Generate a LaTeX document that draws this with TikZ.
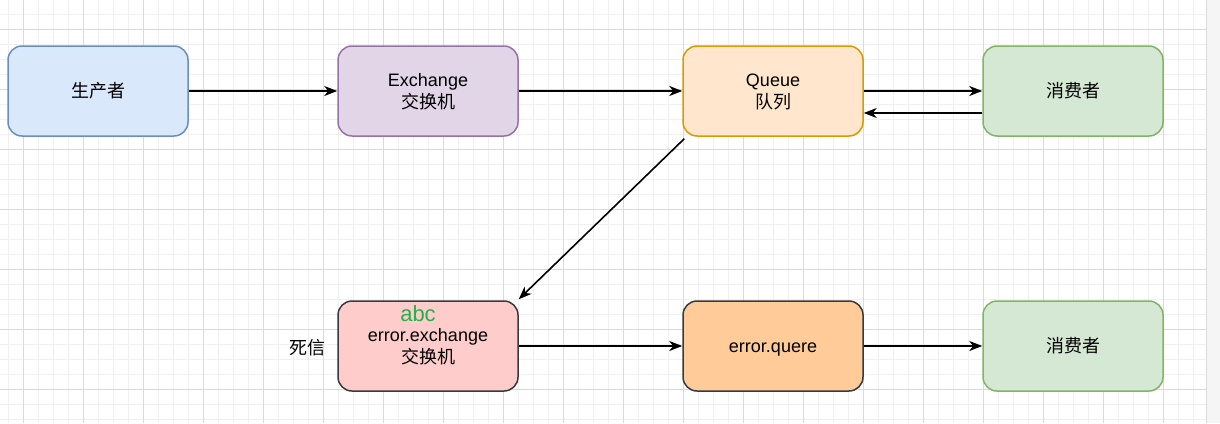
\documentclass[tikz,border=0pt]{standalone}
\usepackage{fontspec}
\setmainfont{Liberation Sans}
\newfontfamily\cjk{Noto Sans CJK SC}
\usetikzlibrary{arrows.meta}
\newcommand\tstrut{\rule[-6.6pt]{0pt}{26pt}}
\definecolor{gridminor}{HTML}{F0F0F0}
\definecolor{gridmajor}{HTML}{DADADA}
\definecolor{bluef}{HTML}{DAE8FC}\definecolor{blued}{HTML}{6C8EBF}
\definecolor{purpf}{HTML}{E1D5E7}\definecolor{purpd}{HTML}{9673A6}
\definecolor{oranf}{HTML}{FFE6CC}\definecolor{orand}{HTML}{D79B00}
\definecolor{greef}{HTML}{D5E8D4}\definecolor{greed}{HTML}{82B366}
\definecolor{redf}{HTML}{FFCCCC}\definecolor{darkd}{HTML}{36393D}
\definecolor{peachf}{HTML}{FFCC99}
\definecolor{abcgreen}{HTML}{22B14C}
\begin{document}
\begin{tikzpicture}[x=1pt,y=-1pt,
  box/.style={rounded corners=14pt, minimum width=180pt, minimum height=90pt, line width=1.5pt, align=center, inner sep=0pt,
    font=\fontsize{18}{22}\selectfont},
  conn/.style={line width=1.6pt, -{Stealth[length=13pt,width=10pt,inset=4pt]}},
  lbl/.style={font=\fontsize{18}{22}\selectfont}
]
\useasboundingbox (0,0) rectangle (1220,423);
% grid
\foreach \x in {8,23,...,1206} \draw[gridminor, line width=1pt] (\x,0) -- (\x,423);
\foreach \y in {-1,14,...,423} \draw[gridminor, line width=1pt] (0,\y) -- (1206,\y);
\foreach \x in {23,83,...,1206} \draw[gridmajor, line width=1pt] (\x,0) -- (\x,423);
\foreach \y in {29,89,...,423} \draw[gridmajor, line width=1pt] (0,\y) -- (1206,\y);
\fill[white!96!black] (1206,0) rectangle (1220,423);
\draw[gridmajor, line width=1pt] (1206,0) -- (1206,423);

% nodes
\node[box, draw=blued, fill=bluef] (p) at (98,91) {\tstrut\cjk 生产者};
\node[box, draw=purpd, fill=purpf] (ex) at (428,91) {\tstrut Exchange\\\strut{\cjk 交换机}};
\node[box, draw=orand, fill=oranf] (q) at (773,91) {\tstrut Queue\\\strut{\cjk 队列}};
\node[box, draw=greed, fill=greef] (c1) at (1073,91) {\tstrut\cjk 消费者};
\node[box, draw=darkd, fill=redf] (ee) at (428,346) {\tstrut error.exchange\\\strut{\cjk 交换机}};
\node[box, draw=darkd, fill=peachf] (eq) at (773,346) {\tstrut error.quere};
\node[box, draw=greed, fill=greef] (c2) at (1073,346) {\tstrut\cjk 消费者};
\node[lbl, anchor=east, inner sep=0pt] (dl) at ([xshift=-12pt,yshift=-4pt]ee.west) {\strut\cjk 死信};
\node[font=\fontsize{22}{24}\selectfont, text=abcgreen, inner sep=0pt] (abc) at ([xshift=-10pt,yshift=-13pt]ee.north) {abc};

% connectors
\draw[conn] (p) -- (ex);
\draw[conn] (ex) -- (q);
\draw[conn] (q) -- (c1);
\draw[conn] ([yshift=-22pt]c1.west) -- ([yshift=-22pt]q.east);
\draw[conn] ([xshift=2pt,yshift=-2pt]q.south west) -- ([yshift=1pt]ee.north east);
\draw[conn] (ee) -- (eq);
\draw[conn] (eq) -- (c2);
\end{tikzpicture}
\end{document}
